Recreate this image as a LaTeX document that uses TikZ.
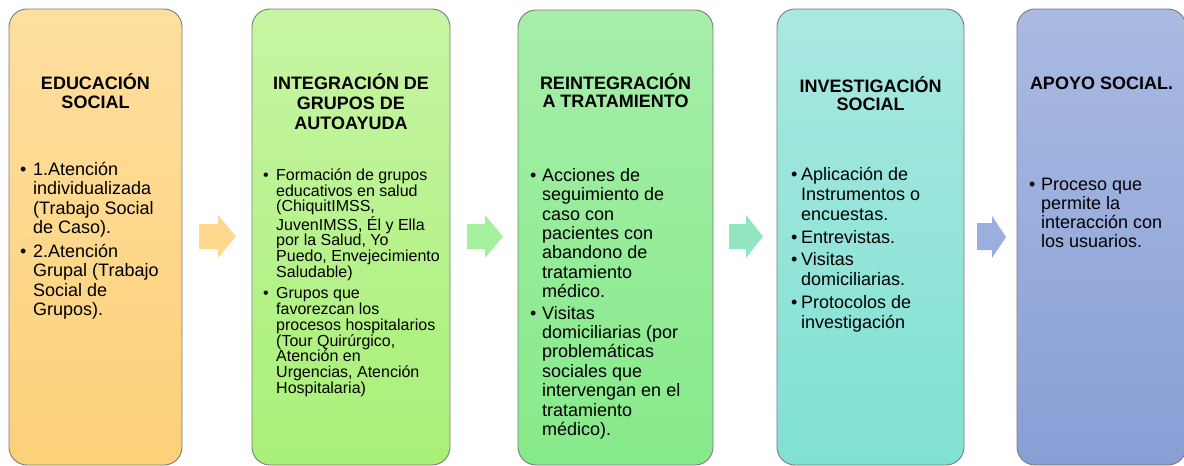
\documentclass[tikz,border=0pt]{standalone}
\usepackage{fontspec}
\setmainfont{Liberation Sans}
\definecolor{oTop}{HTML}{FEDF9F}\definecolor{oBot}{HTML}{FDD079}
\definecolor{gTop}{HTML}{C8F5A4}\definecolor{gBot}{HTML}{A8F077}
\definecolor{mTop}{HTML}{A6EEAA}\definecolor{mBot}{HTML}{86EA89}
\definecolor{tTop}{HTML}{A9E8E1}\definecolor{tBot}{HTML}{80E1D2}
\definecolor{bTop}{HTML}{AABAE2}\definecolor{bBot}{HTML}{889FD6}
\definecolor{aOne}{HTML}{FDD88E}\definecolor{aTwo}{HTML}{A4F09E}
\definecolor{aThree}{HTML}{91E6BF}\definecolor{aFour}{HTML}{9BAEE0}
\definecolor{edge}{HTML}{7A7A7A}
\newlength\bw
\newcommand\myb{\makebox[\bw][l]{\textbullet}}
\newcommand\myi{\hspace*{\bw}}
\newcommand\flecha[4]{\fill[#4] (#1,224) -- (#2,224) -- (#2,215) -- (#3,236.5) -- (#2,258) -- (#2,249) -- (#1,249) -- cycle;}
\tikzset{
  stage/.style={draw=edge, line width=0.9pt, rounded corners=18pt, inner sep=0pt},
  ttl/.style={anchor=north, align=center, inner sep=0pt, font=\bfseries\fontsize{18}{19}\selectfont},
  body/.style={anchor=north west, align=left, inner sep=0pt},
  bwid/.style={execute at begin node={\global\bw=#1pt}},
}
\begin{document}
\begin{tikzpicture}[x=1pt,y=-1pt]
\useasboundingbox (0,0) rectangle (1184,466);
% boxes
\node (b1) [stage, top color=oTop, bottom color=oBot, minimum width=173pt, minimum height=456pt] at (95.5,237) {};
\node (b2) [stage, top color=gTop, bottom color=gBot, minimum width=198pt, minimum height=456pt] at (351,237) {};
\node (b3) [stage, top color=mTop, bottom color=mBot, minimum width=195pt, minimum height=455pt] at (615.5,237.5) {};
\node (b4) [stage, top color=tTop, bottom color=tBot, minimum width=187pt, minimum height=456pt] at (870.5,237) {};
\node (b5) [stage, top color=bTop, bottom color=bBot, minimum width=169pt, minimum height=456pt] at (1101.5,237) {};
% arrows
\flecha{199}{218}{236}{aOne}
\flecha{467}{485}{503}{aTwo}
\flecha{729}{746}{763}{aThree}
\fill[aFour] (977,223) -- (992,223) -- (992,216) -- (1006,237) -- (992,258) -- (992,250) -- (977,250) -- cycle;
% titles
\node (t1) [ttl] at (95.5,71) {\rule{0pt}{18pt}EDUCACIÓN\\SOCIAL};
\node (t2) [ttl, font=\bfseries\fontsize{18}{20}\selectfont] at (351,71) {\rule{0pt}{18pt}INTEGRACIÓN DE\\GRUPOS DE\\AUTOAYUDA};
\node (t3) [ttl, font=\bfseries\fontsize{18}{18.5}\selectfont] at (615.5,71) {\rule{0pt}{18pt}REINTEGRACIÓN\\A TRATAMIENTO};
\node (t4) [ttl, font=\bfseries\fontsize{18}{18.5}\selectfont] at (870.5,74) {\rule{0pt}{18pt}INVESTIGACIÓN\\SOCIAL};
\node (t5) [ttl] at (1101.5,71) {\rule{0pt}{18pt}APOYO SOCIAL.};
% bodies
\node (c1) [body, bwid=13, font=\fontsize{18}{19.5}\selectfont] at (20,157) {\rule{0pt}{18pt}\myb 1.Atención\\\myi individualizada\\\myi (Trabajo Social\\\myi de Caso).\\[4pt]\myb 2.Atención\\\myi Grupal (Trabajo\\\myi Social de\\\myi Grupos).};
\node (c2) [body, bwid=13, font=\fontsize{16}{15.8}\selectfont] at (263,164) {\rule{0pt}{16pt}\myb Formación de grupos\\\myi educativos en salud\\\myi (ChiquitIMSS,\\\myi JuvenIMSS, Él y Ella\\\myi por la Salud, Yo\\\myi Puedo, Envejecimiento\\\myi Saludable)\\[5.5pt]\myb Grupos que\\\myi favorezcan los\\\myi procesos hospitalarios\\\myi (Tour Quirúrgico,\\\myi Atención en\\\myi Urgencias, Atención\\\myi Hospitalaria)};
\node (c3) [body, bwid=12, font=\fontsize{18}{19.4}\selectfont] at (530,163) {\rule{0pt}{18pt}\myb Acciones de\\\myi seguimiento de\\\myi caso con\\\myi pacientes con\\\myi abandono de\\\myi tratamiento\\\myi médico.\\[2pt]\myb Visitas\\\myi domiciliarias (por\\\myi problemáticas\\\myi sociales que\\\myi intervengan en el\\\myi tratamiento\\\myi médico).};
\node (c4) [body, bwid=10, font=\fontsize{18}{20}\selectfont] at (791,162.5) {\rule{0pt}{18pt}\myb Aplicación de\\\myi Instrumentos o\\\myi encuestas.\\[2.5pt]\myb Entrevistas.\\[2.5pt]\myb Visitas\\\myi domiciliarias.\\[2.5pt]\myb Protocolos de\\\myi investigación};
\node (c5) [body, bwid=12, font=\fontsize{18}{19}\selectfont] at (1029,172.5) {\rule{0pt}{18pt}\myb Proceso que\\\myi permite la\\\myi interacción con\\\myi los usuarios.};
\end{tikzpicture}
\end{document}
